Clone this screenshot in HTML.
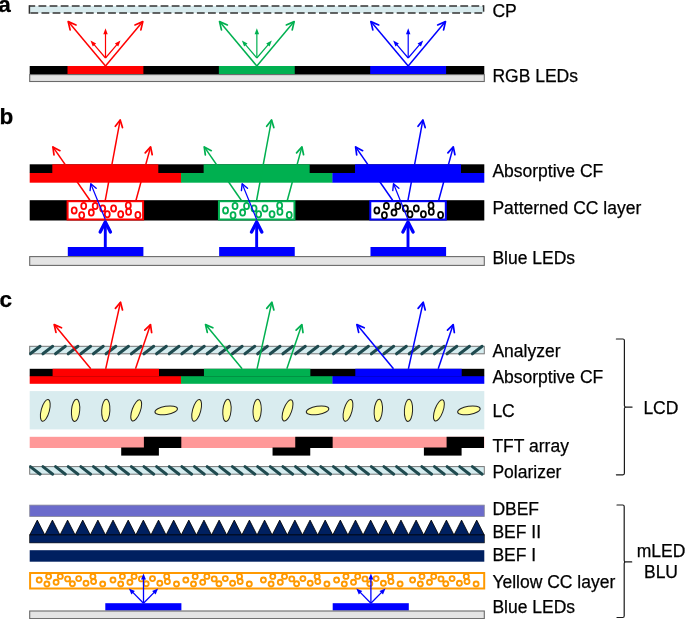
<!DOCTYPE html>
<html><head><meta charset="utf-8"><style>
html,body{margin:0;padding:0;background:#fff;width:685px;height:619px;overflow:hidden}
svg{display:block;will-change:transform}
text{font-family:"Liberation Sans",sans-serif;fill:#000;stroke:#000;stroke-width:0.25px}
</style></head><body>
<svg width="685" height="619" viewBox="0 0 685 619">
<text x="-1.7" y="11.7" font-size="22.5" font-weight="bold">a</text>
<rect x="29.4" y="6" width="454.2" height="7" fill="#d8ebee"/>
<line x1="29.4" y1="6" x2="483.6" y2="6" stroke="#333" stroke-width="1.5" stroke-dasharray="7.8 3.3" stroke-dashoffset="2"/>
<line x1="29.4" y1="13" x2="483.6" y2="13" stroke="#333" stroke-width="1.5" stroke-dasharray="7.8 3.3" stroke-dashoffset="-1.0"/>
<line x1="29.4" y1="5.25" x2="29.4" y2="13.75" stroke="#333" stroke-width="1.5"/>
<line x1="483.6" y1="5.25" x2="483.6" y2="11.7" stroke="#333" stroke-width="1.5"/>
<rect x="29.7" y="66" width="454.6" height="8.5" fill="#000"/>
<rect x="67.50" y="66" width="75.9" height="8.5" fill="#ff0000"/>
<rect x="218.85" y="66" width="75.9" height="8.5" fill="#00b050"/>
<rect x="370.20" y="66" width="75.9" height="8.5" fill="#0000ff"/>
<rect x="29.7" y="74.6" width="454.6" height="6.9" fill="#e4e4e4" stroke="#6a6a6a" stroke-width="1.1"/>
<line x1="105.50" y1="66.00" x2="68.20" y2="21.60" stroke="#ff0000" stroke-width="1.5"/>
<polyline points="70.12,29.88 68.20,21.60 76.03,24.92" fill="none" stroke="#ff0000" stroke-width="1.72" stroke-linecap="round" stroke-linejoin="round"/>
<line x1="105.50" y1="66.00" x2="142.80" y2="21.60" stroke="#ff0000" stroke-width="1.5"/>
<polyline points="134.97,24.92 142.80,21.60 140.88,29.88" fill="none" stroke="#ff0000" stroke-width="1.72" stroke-linecap="round" stroke-linejoin="round"/>
<line x1="105.50" y1="58.00" x2="105.50" y2="32.75" stroke="#ff0000" stroke-width="1.2"/>
<polygon points="105.50,28.20 103.28,34.31 107.72,34.31" fill="#ff0000"/>
<line x1="105.50" y1="58.00" x2="93.45" y2="43.86" stroke="#ff0000" stroke-width="1.2"/>
<polygon points="90.50,40.40 92.77,46.49 96.15,43.61" fill="#ff0000"/>
<line x1="105.50" y1="58.00" x2="117.55" y2="43.86" stroke="#ff0000" stroke-width="1.2"/>
<polygon points="120.50,40.40 114.85,43.61 118.23,46.49" fill="#ff0000"/>
<line x1="256.85" y1="66.00" x2="219.55" y2="21.60" stroke="#00b050" stroke-width="1.5"/>
<polyline points="221.47,29.88 219.55,21.60 227.38,24.92" fill="none" stroke="#00b050" stroke-width="1.72" stroke-linecap="round" stroke-linejoin="round"/>
<line x1="256.85" y1="66.00" x2="294.15" y2="21.60" stroke="#00b050" stroke-width="1.5"/>
<polyline points="286.32,24.92 294.15,21.60 292.23,29.88" fill="none" stroke="#00b050" stroke-width="1.72" stroke-linecap="round" stroke-linejoin="round"/>
<line x1="256.85" y1="58.00" x2="256.85" y2="32.75" stroke="#00b050" stroke-width="1.2"/>
<polygon points="256.85,28.20 254.63,34.31 259.07,34.31" fill="#00b050"/>
<line x1="256.85" y1="58.00" x2="244.80" y2="43.86" stroke="#00b050" stroke-width="1.2"/>
<polygon points="241.85,40.40 244.12,46.49 247.50,43.61" fill="#00b050"/>
<line x1="256.85" y1="58.00" x2="268.90" y2="43.86" stroke="#00b050" stroke-width="1.2"/>
<polygon points="271.85,40.40 266.20,43.61 269.58,46.49" fill="#00b050"/>
<line x1="408.20" y1="66.00" x2="370.90" y2="21.60" stroke="#0000ff" stroke-width="1.5"/>
<polyline points="372.82,29.88 370.90,21.60 378.73,24.92" fill="none" stroke="#0000ff" stroke-width="1.72" stroke-linecap="round" stroke-linejoin="round"/>
<line x1="408.20" y1="66.00" x2="445.50" y2="21.60" stroke="#0000ff" stroke-width="1.5"/>
<polyline points="437.67,24.92 445.50,21.60 443.58,29.88" fill="none" stroke="#0000ff" stroke-width="1.72" stroke-linecap="round" stroke-linejoin="round"/>
<line x1="408.20" y1="58.00" x2="408.20" y2="32.75" stroke="#0000ff" stroke-width="1.2"/>
<polygon points="408.20,28.20 405.98,34.31 410.42,34.31" fill="#0000ff"/>
<line x1="408.20" y1="58.00" x2="396.15" y2="43.86" stroke="#0000ff" stroke-width="1.2"/>
<polygon points="393.20,40.40 395.47,46.49 398.85,43.61" fill="#0000ff"/>
<line x1="408.20" y1="58.00" x2="420.25" y2="43.86" stroke="#0000ff" stroke-width="1.2"/>
<polygon points="423.20,40.40 417.55,43.61 420.93,46.49" fill="#0000ff"/>
<text x="492.4" y="16.6" font-size="17.5" text-anchor="start">CP</text>
<text x="492.4" y="81.8" font-size="17.5" text-anchor="start">RGB LEDs</text>
<text x="-0.6" y="124" font-size="22.5" font-weight="bold">b</text>
<rect x="29.70" y="172.8" width="151.65" height="9.9" fill="#ff0000"/>
<rect x="181.05" y="172.8" width="151.65" height="9.9" fill="#00b050"/>
<rect x="332.40" y="172.8" width="151.90" height="9.9" fill="#0000ff"/>
<rect x="29.7" y="164.3" width="454.6" height="8.7" fill="#000"/>
<rect x="52.30" y="164.3" width="106" height="8.7" fill="#ff0000"/>
<rect x="203.65" y="164.3" width="106" height="8.7" fill="#00b050"/>
<rect x="355.00" y="164.3" width="106" height="8.7" fill="#0000ff"/>
<rect x="29.7" y="200.2" width="454.6" height="20.3" fill="#000"/>
<rect x="67.60" y="201.2" width="75.5" height="18.3" fill="#fff" stroke="#ff0000" stroke-width="2"/>
<ellipse cx="74.20" cy="210.4" rx="2.5" ry="3.1" fill="none" stroke="#ff0000" stroke-width="1.8"/>
<ellipse cx="83.70" cy="206" rx="2.5" ry="3.1" fill="none" stroke="#ff0000" stroke-width="1.8"/>
<ellipse cx="81.70" cy="215.2" rx="2.5" ry="3.1" fill="none" stroke="#ff0000" stroke-width="1.8"/>
<ellipse cx="91.30" cy="212.6" rx="2.5" ry="3.1" fill="none" stroke="#ff0000" stroke-width="1.8"/>
<ellipse cx="95.20" cy="206" rx="2.5" ry="3.1" fill="none" stroke="#ff0000" stroke-width="1.8"/>
<ellipse cx="102.70" cy="208.4" rx="2.5" ry="3.1" fill="none" stroke="#ff0000" stroke-width="1.8"/>
<ellipse cx="107.30" cy="214.3" rx="2.5" ry="3.1" fill="none" stroke="#ff0000" stroke-width="1.8"/>
<ellipse cx="113.60" cy="208.4" rx="2.5" ry="3.1" fill="none" stroke="#ff0000" stroke-width="1.8"/>
<ellipse cx="120.70" cy="214.3" rx="2.5" ry="3.1" fill="none" stroke="#ff0000" stroke-width="1.8"/>
<ellipse cx="128.30" cy="205.5" rx="2.5" ry="3.1" fill="none" stroke="#ff0000" stroke-width="1.8"/>
<ellipse cx="128.60" cy="211.7" rx="2.5" ry="3.1" fill="none" stroke="#ff0000" stroke-width="1.8"/>
<ellipse cx="137.90" cy="215" rx="2.5" ry="3.1" fill="none" stroke="#ff0000" stroke-width="1.8"/>
<rect x="218.95" y="201.2" width="75.5" height="18.3" fill="#fff" stroke="#00b050" stroke-width="2"/>
<ellipse cx="225.55" cy="210.4" rx="2.5" ry="3.1" fill="none" stroke="#00b050" stroke-width="1.8"/>
<ellipse cx="235.05" cy="206" rx="2.5" ry="3.1" fill="none" stroke="#00b050" stroke-width="1.8"/>
<ellipse cx="233.05" cy="215.2" rx="2.5" ry="3.1" fill="none" stroke="#00b050" stroke-width="1.8"/>
<ellipse cx="242.65" cy="212.6" rx="2.5" ry="3.1" fill="none" stroke="#00b050" stroke-width="1.8"/>
<ellipse cx="246.55" cy="206" rx="2.5" ry="3.1" fill="none" stroke="#00b050" stroke-width="1.8"/>
<ellipse cx="254.05" cy="208.4" rx="2.5" ry="3.1" fill="none" stroke="#00b050" stroke-width="1.8"/>
<ellipse cx="258.65" cy="214.3" rx="2.5" ry="3.1" fill="none" stroke="#00b050" stroke-width="1.8"/>
<ellipse cx="264.95" cy="208.4" rx="2.5" ry="3.1" fill="none" stroke="#00b050" stroke-width="1.8"/>
<ellipse cx="272.05" cy="214.3" rx="2.5" ry="3.1" fill="none" stroke="#00b050" stroke-width="1.8"/>
<ellipse cx="279.65" cy="205.5" rx="2.5" ry="3.1" fill="none" stroke="#00b050" stroke-width="1.8"/>
<ellipse cx="279.95" cy="211.7" rx="2.5" ry="3.1" fill="none" stroke="#00b050" stroke-width="1.8"/>
<ellipse cx="289.25" cy="215" rx="2.5" ry="3.1" fill="none" stroke="#00b050" stroke-width="1.8"/>
<rect x="370.30" y="201.2" width="75.5" height="18.3" fill="#fff" stroke="#0000ff" stroke-width="2"/>
<ellipse cx="376.90" cy="210.4" rx="2.5" ry="3.1" fill="none" stroke="#000" stroke-width="1.8"/>
<ellipse cx="386.40" cy="206" rx="2.5" ry="3.1" fill="none" stroke="#000" stroke-width="1.8"/>
<ellipse cx="384.40" cy="215.2" rx="2.5" ry="3.1" fill="none" stroke="#000" stroke-width="1.8"/>
<ellipse cx="394.00" cy="212.6" rx="2.5" ry="3.1" fill="none" stroke="#000" stroke-width="1.8"/>
<ellipse cx="397.90" cy="206" rx="2.5" ry="3.1" fill="none" stroke="#000" stroke-width="1.8"/>
<ellipse cx="405.40" cy="208.4" rx="2.5" ry="3.1" fill="none" stroke="#000" stroke-width="1.8"/>
<ellipse cx="410.00" cy="214.3" rx="2.5" ry="3.1" fill="none" stroke="#000" stroke-width="1.8"/>
<ellipse cx="416.30" cy="208.4" rx="2.5" ry="3.1" fill="none" stroke="#000" stroke-width="1.8"/>
<ellipse cx="423.40" cy="214.3" rx="2.5" ry="3.1" fill="none" stroke="#000" stroke-width="1.8"/>
<ellipse cx="431.00" cy="205.5" rx="2.5" ry="3.1" fill="none" stroke="#000" stroke-width="1.8"/>
<ellipse cx="431.30" cy="211.7" rx="2.5" ry="3.1" fill="none" stroke="#000" stroke-width="1.8"/>
<ellipse cx="440.60" cy="215" rx="2.5" ry="3.1" fill="none" stroke="#000" stroke-width="1.8"/>
<rect x="67.80" y="247" width="75.6" height="9" fill="#0000ff"/>
<rect x="219.15" y="247" width="75.6" height="9" fill="#0000ff"/>
<rect x="370.50" y="247" width="75.6" height="9" fill="#0000ff"/>
<rect x="29.7" y="256.6" width="454.6" height="8.8" fill="#e4e4e4" stroke="#6a6a6a" stroke-width="1.1"/>
<line x1="105.30" y1="247.00" x2="105.30" y2="222.00" stroke="#0000ff" stroke-width="2.9"/>
<polyline points="100.17,232.07 105.30,222.00 110.43,232.07" fill="none" stroke="#0000ff" stroke-width="3.33" stroke-linecap="round" stroke-linejoin="round"/>
<line x1="105.30" y1="219.50" x2="90.80" y2="183.70" stroke="#0000ff" stroke-width="1.2"/>
<polyline points="90.07,190.66 90.80,183.70 96.17,188.19" fill="none" stroke="#0000ff" stroke-width="1.38" stroke-linecap="round" stroke-linejoin="round"/>
<line x1="89.90" y1="200.20" x2="52.90" y2="146.90" stroke="#ff0000" stroke-width="1.5"/>
<polyline points="53.98,154.83 52.90,146.90 59.95,150.68" fill="none" stroke="#ff0000" stroke-width="1.72" stroke-linecap="round" stroke-linejoin="round"/>
<line x1="105.30" y1="200.20" x2="120.20" y2="119.90" stroke="#ff0000" stroke-width="1.5"/>
<polyline points="115.33,126.25 120.20,119.90 122.47,127.57" fill="none" stroke="#ff0000" stroke-width="1.72" stroke-linecap="round" stroke-linejoin="round"/>
<line x1="136.00" y1="200.20" x2="150.60" y2="146.90" stroke="#ff0000" stroke-width="1.5"/>
<polyline points="145.21,152.82 150.60,146.90 152.22,154.73" fill="none" stroke="#ff0000" stroke-width="1.72" stroke-linecap="round" stroke-linejoin="round"/>
<line x1="256.65" y1="247.00" x2="256.65" y2="222.00" stroke="#0000ff" stroke-width="2.9"/>
<polyline points="251.52,232.07 256.65,222.00 261.78,232.07" fill="none" stroke="#0000ff" stroke-width="3.33" stroke-linecap="round" stroke-linejoin="round"/>
<line x1="256.65" y1="219.50" x2="242.15" y2="183.70" stroke="#0000ff" stroke-width="1.2"/>
<polyline points="241.42,190.66 242.15,183.70 247.52,188.19" fill="none" stroke="#0000ff" stroke-width="1.38" stroke-linecap="round" stroke-linejoin="round"/>
<line x1="241.25" y1="200.20" x2="204.25" y2="146.90" stroke="#00b050" stroke-width="1.5"/>
<polyline points="205.33,154.83 204.25,146.90 211.30,150.68" fill="none" stroke="#00b050" stroke-width="1.72" stroke-linecap="round" stroke-linejoin="round"/>
<line x1="256.65" y1="200.20" x2="271.55" y2="119.90" stroke="#00b050" stroke-width="1.5"/>
<polyline points="266.68,126.25 271.55,119.90 273.82,127.57" fill="none" stroke="#00b050" stroke-width="1.72" stroke-linecap="round" stroke-linejoin="round"/>
<line x1="287.35" y1="200.20" x2="301.95" y2="146.90" stroke="#00b050" stroke-width="1.5"/>
<polyline points="296.56,152.82 301.95,146.90 303.57,154.73" fill="none" stroke="#00b050" stroke-width="1.72" stroke-linecap="round" stroke-linejoin="round"/>
<line x1="408.00" y1="247.00" x2="408.00" y2="222.00" stroke="#0000ff" stroke-width="2.9"/>
<polyline points="402.87,232.07 408.00,222.00 413.13,232.07" fill="none" stroke="#0000ff" stroke-width="3.33" stroke-linecap="round" stroke-linejoin="round"/>
<line x1="408.00" y1="219.50" x2="393.50" y2="183.70" stroke="#0000ff" stroke-width="1.2"/>
<polyline points="392.77,190.66 393.50,183.70 398.87,188.19" fill="none" stroke="#0000ff" stroke-width="1.38" stroke-linecap="round" stroke-linejoin="round"/>
<line x1="392.60" y1="200.20" x2="355.60" y2="146.90" stroke="#0000ff" stroke-width="1.5"/>
<polyline points="356.68,154.83 355.60,146.90 362.65,150.68" fill="none" stroke="#0000ff" stroke-width="1.72" stroke-linecap="round" stroke-linejoin="round"/>
<line x1="408.00" y1="200.20" x2="422.90" y2="119.90" stroke="#0000ff" stroke-width="1.5"/>
<polyline points="418.03,126.25 422.90,119.90 425.17,127.57" fill="none" stroke="#0000ff" stroke-width="1.72" stroke-linecap="round" stroke-linejoin="round"/>
<line x1="438.70" y1="200.20" x2="453.30" y2="146.90" stroke="#0000ff" stroke-width="1.5"/>
<polyline points="447.91,152.82 453.30,146.90 454.92,154.73" fill="none" stroke="#0000ff" stroke-width="1.72" stroke-linecap="round" stroke-linejoin="round"/>
<text x="492.4" y="177.1" font-size="17.5" text-anchor="start">Absorptive CF</text>
<text x="492.4" y="214" font-size="17.5" text-anchor="start">Patterned CC layer</text>
<text x="492.4" y="263.8" font-size="17.5" text-anchor="start">Blue LEDs</text>
<text x="-0.4" y="307.4" font-size="22.5" font-weight="bold">c</text>
<rect x="29.7" y="346.3" width="454.6" height="7.5" fill="#d5ecef" stroke="#777" stroke-width="1"/>
<clipPath id="clip346"><rect x="29.2" y="343.3" width="455.6" height="13.5"/></clipPath><g clip-path="url(#clip346)">
<line x1="30.30" y1="353.8" x2="40.10" y2="346.3" stroke="#1f4a4f" stroke-width="3" stroke-linecap="round"/>
<line x1="42.93" y1="353.8" x2="52.73" y2="346.3" stroke="#1f4a4f" stroke-width="3" stroke-linecap="round"/>
<line x1="55.56" y1="353.8" x2="65.36" y2="346.3" stroke="#1f4a4f" stroke-width="3" stroke-linecap="round"/>
<line x1="68.19" y1="353.8" x2="77.99" y2="346.3" stroke="#1f4a4f" stroke-width="3" stroke-linecap="round"/>
<line x1="80.82" y1="353.8" x2="90.62" y2="346.3" stroke="#1f4a4f" stroke-width="3" stroke-linecap="round"/>
<line x1="93.45" y1="353.8" x2="103.25" y2="346.3" stroke="#1f4a4f" stroke-width="3" stroke-linecap="round"/>
<line x1="106.08" y1="353.8" x2="115.88" y2="346.3" stroke="#1f4a4f" stroke-width="3" stroke-linecap="round"/>
<line x1="118.71" y1="353.8" x2="128.51" y2="346.3" stroke="#1f4a4f" stroke-width="3" stroke-linecap="round"/>
<line x1="131.34" y1="353.8" x2="141.14" y2="346.3" stroke="#1f4a4f" stroke-width="3" stroke-linecap="round"/>
<line x1="143.97" y1="353.8" x2="153.77" y2="346.3" stroke="#1f4a4f" stroke-width="3" stroke-linecap="round"/>
<line x1="156.60" y1="353.8" x2="166.40" y2="346.3" stroke="#1f4a4f" stroke-width="3" stroke-linecap="round"/>
<line x1="169.23" y1="353.8" x2="179.03" y2="346.3" stroke="#1f4a4f" stroke-width="3" stroke-linecap="round"/>
<line x1="181.86" y1="353.8" x2="191.66" y2="346.3" stroke="#1f4a4f" stroke-width="3" stroke-linecap="round"/>
<line x1="194.49" y1="353.8" x2="204.29" y2="346.3" stroke="#1f4a4f" stroke-width="3" stroke-linecap="round"/>
<line x1="207.12" y1="353.8" x2="216.92" y2="346.3" stroke="#1f4a4f" stroke-width="3" stroke-linecap="round"/>
<line x1="219.75" y1="353.8" x2="229.55" y2="346.3" stroke="#1f4a4f" stroke-width="3" stroke-linecap="round"/>
<line x1="232.38" y1="353.8" x2="242.18" y2="346.3" stroke="#1f4a4f" stroke-width="3" stroke-linecap="round"/>
<line x1="245.01" y1="353.8" x2="254.81" y2="346.3" stroke="#1f4a4f" stroke-width="3" stroke-linecap="round"/>
<line x1="257.64" y1="353.8" x2="267.44" y2="346.3" stroke="#1f4a4f" stroke-width="3" stroke-linecap="round"/>
<line x1="270.27" y1="353.8" x2="280.07" y2="346.3" stroke="#1f4a4f" stroke-width="3" stroke-linecap="round"/>
<line x1="282.90" y1="353.8" x2="292.70" y2="346.3" stroke="#1f4a4f" stroke-width="3" stroke-linecap="round"/>
<line x1="295.53" y1="353.8" x2="305.33" y2="346.3" stroke="#1f4a4f" stroke-width="3" stroke-linecap="round"/>
<line x1="308.16" y1="353.8" x2="317.96" y2="346.3" stroke="#1f4a4f" stroke-width="3" stroke-linecap="round"/>
<line x1="320.79" y1="353.8" x2="330.59" y2="346.3" stroke="#1f4a4f" stroke-width="3" stroke-linecap="round"/>
<line x1="333.42" y1="353.8" x2="343.22" y2="346.3" stroke="#1f4a4f" stroke-width="3" stroke-linecap="round"/>
<line x1="346.05" y1="353.8" x2="355.85" y2="346.3" stroke="#1f4a4f" stroke-width="3" stroke-linecap="round"/>
<line x1="358.68" y1="353.8" x2="368.48" y2="346.3" stroke="#1f4a4f" stroke-width="3" stroke-linecap="round"/>
<line x1="371.31" y1="353.8" x2="381.11" y2="346.3" stroke="#1f4a4f" stroke-width="3" stroke-linecap="round"/>
<line x1="383.94" y1="353.8" x2="393.74" y2="346.3" stroke="#1f4a4f" stroke-width="3" stroke-linecap="round"/>
<line x1="396.57" y1="353.8" x2="406.37" y2="346.3" stroke="#1f4a4f" stroke-width="3" stroke-linecap="round"/>
<line x1="409.20" y1="353.8" x2="419.00" y2="346.3" stroke="#1f4a4f" stroke-width="3" stroke-linecap="round"/>
<line x1="421.83" y1="353.8" x2="431.63" y2="346.3" stroke="#1f4a4f" stroke-width="3" stroke-linecap="round"/>
<line x1="434.46" y1="353.8" x2="444.26" y2="346.3" stroke="#1f4a4f" stroke-width="3" stroke-linecap="round"/>
<line x1="447.09" y1="353.8" x2="456.89" y2="346.3" stroke="#1f4a4f" stroke-width="3" stroke-linecap="round"/>
<line x1="459.72" y1="353.8" x2="469.52" y2="346.3" stroke="#1f4a4f" stroke-width="3" stroke-linecap="round"/>
<line x1="472.35" y1="353.8" x2="482.15" y2="346.3" stroke="#1f4a4f" stroke-width="3" stroke-linecap="round"/>
</g>
<rect x="29.70" y="375.8" width="151.65" height="8" fill="#ff0000"/>
<rect x="181.05" y="375.8" width="151.65" height="8" fill="#00b050"/>
<rect x="332.40" y="375.8" width="151.90" height="8" fill="#0000ff"/>
<rect x="29.7" y="368.8" width="454.6" height="7.4" fill="#000"/>
<rect x="52.60" y="368.8" width="106.4" height="7.4" fill="#ff0000"/>
<rect x="203.95" y="368.8" width="106.4" height="7.4" fill="#00b050"/>
<rect x="355.30" y="368.8" width="106.4" height="7.4" fill="#0000ff"/>
<line x1="90.80" y1="368.80" x2="54.20" y2="324.60" stroke="#ff0000" stroke-width="1.5"/>
<polyline points="55.95,332.41 54.20,324.60 61.54,327.77" fill="none" stroke="#ff0000" stroke-width="1.72" stroke-linecap="round" stroke-linejoin="round"/>
<line x1="105.70" y1="368.80" x2="120.50" y2="302.20" stroke="#ff0000" stroke-width="1.5"/>
<polyline points="115.41,308.37 120.50,302.20 122.50,309.95" fill="none" stroke="#ff0000" stroke-width="1.72" stroke-linecap="round" stroke-linejoin="round"/>
<line x1="135.50" y1="368.80" x2="150.50" y2="324.60" stroke="#ff0000" stroke-width="1.5"/>
<polyline points="144.77,330.18 150.50,324.60 151.65,332.52" fill="none" stroke="#ff0000" stroke-width="1.72" stroke-linecap="round" stroke-linejoin="round"/>
<line x1="242.15" y1="368.80" x2="205.55" y2="324.60" stroke="#00b050" stroke-width="1.5"/>
<polyline points="207.30,332.41 205.55,324.60 212.89,327.77" fill="none" stroke="#00b050" stroke-width="1.72" stroke-linecap="round" stroke-linejoin="round"/>
<line x1="257.05" y1="368.80" x2="271.85" y2="302.20" stroke="#00b050" stroke-width="1.5"/>
<polyline points="266.76,308.37 271.85,302.20 273.85,309.95" fill="none" stroke="#00b050" stroke-width="1.72" stroke-linecap="round" stroke-linejoin="round"/>
<line x1="286.85" y1="368.80" x2="301.85" y2="324.60" stroke="#00b050" stroke-width="1.5"/>
<polyline points="296.12,330.18 301.85,324.60 303.00,332.52" fill="none" stroke="#00b050" stroke-width="1.72" stroke-linecap="round" stroke-linejoin="round"/>
<line x1="393.50" y1="368.80" x2="356.90" y2="324.60" stroke="#0000ff" stroke-width="1.5"/>
<polyline points="358.65,332.41 356.90,324.60 364.24,327.77" fill="none" stroke="#0000ff" stroke-width="1.72" stroke-linecap="round" stroke-linejoin="round"/>
<line x1="408.40" y1="368.80" x2="423.20" y2="302.20" stroke="#0000ff" stroke-width="1.5"/>
<polyline points="418.11,308.37 423.20,302.20 425.20,309.95" fill="none" stroke="#0000ff" stroke-width="1.72" stroke-linecap="round" stroke-linejoin="round"/>
<line x1="438.20" y1="368.80" x2="453.20" y2="324.60" stroke="#0000ff" stroke-width="1.5"/>
<polyline points="447.47,330.18 453.20,324.60 454.35,332.52" fill="none" stroke="#0000ff" stroke-width="1.72" stroke-linecap="round" stroke-linejoin="round"/>
<rect x="29.7" y="391.1" width="454.6" height="38.3" fill="#d9ecef"/>
<ellipse cx="45.30" cy="410.4" rx="4.1" ry="11.2" transform="rotate(15 45.30 410.4)" fill="#ffff99" stroke="#222" stroke-width="1"/>
<ellipse cx="75.60" cy="410.4" rx="4.1" ry="11.2" transform="rotate(5 75.60 410.4)" fill="#ffff99" stroke="#222" stroke-width="1"/>
<ellipse cx="105.80" cy="410.4" rx="4.1" ry="11.2" transform="rotate(3 105.80 410.4)" fill="#ffff99" stroke="#222" stroke-width="1"/>
<ellipse cx="136.20" cy="410.4" rx="4.1" ry="11.2" transform="rotate(20 136.20 410.4)" fill="#ffff99" stroke="#222" stroke-width="1"/>
<ellipse cx="166.20" cy="410.4" rx="11.4" ry="4.1" transform="rotate(-9 166.20 410.4)" fill="#ffff99" stroke="#222" stroke-width="1"/>
<ellipse cx="196.65" cy="410.4" rx="4.1" ry="11.2" transform="rotate(15 196.65 410.4)" fill="#ffff99" stroke="#222" stroke-width="1"/>
<ellipse cx="226.95" cy="410.4" rx="4.1" ry="11.2" transform="rotate(5 226.95 410.4)" fill="#ffff99" stroke="#222" stroke-width="1"/>
<ellipse cx="257.15" cy="410.4" rx="4.1" ry="11.2" transform="rotate(3 257.15 410.4)" fill="#ffff99" stroke="#222" stroke-width="1"/>
<ellipse cx="287.55" cy="410.4" rx="4.1" ry="11.2" transform="rotate(20 287.55 410.4)" fill="#ffff99" stroke="#222" stroke-width="1"/>
<ellipse cx="317.55" cy="410.4" rx="11.4" ry="4.1" transform="rotate(-9 317.55 410.4)" fill="#ffff99" stroke="#222" stroke-width="1"/>
<ellipse cx="348.00" cy="410.4" rx="4.1" ry="11.2" transform="rotate(15 348.00 410.4)" fill="#ffff99" stroke="#222" stroke-width="1"/>
<ellipse cx="378.30" cy="410.4" rx="4.1" ry="11.2" transform="rotate(5 378.30 410.4)" fill="#ffff99" stroke="#222" stroke-width="1"/>
<ellipse cx="408.50" cy="410.4" rx="4.1" ry="11.2" transform="rotate(3 408.50 410.4)" fill="#ffff99" stroke="#222" stroke-width="1"/>
<ellipse cx="438.90" cy="410.4" rx="4.1" ry="11.2" transform="rotate(20 438.90 410.4)" fill="#ffff99" stroke="#222" stroke-width="1"/>
<ellipse cx="468.90" cy="410.4" rx="11.4" ry="4.1" transform="rotate(-9 468.90 410.4)" fill="#ffff99" stroke="#222" stroke-width="1"/>
<rect x="29.7" y="436.8" width="454.6" height="11.2" fill="#ff9999"/>
<rect x="143.90" y="436.8" width="37.4" height="11.2" fill="#000"/>
<rect x="121.20" y="447.5" width="37.7" height="8.1" fill="#000"/>
<rect x="295.25" y="436.8" width="37.4" height="11.2" fill="#000"/>
<rect x="272.55" y="447.5" width="37.7" height="8.1" fill="#000"/>
<rect x="446.60" y="436.8" width="37.4" height="11.2" fill="#000"/>
<rect x="423.90" y="447.5" width="37.7" height="8.1" fill="#000"/>
<rect x="29.7" y="466.6" width="454.6" height="7.6" fill="#d5ecef" stroke="#777" stroke-width="1"/>
<clipPath id="clip466"><rect x="29.2" y="463.6" width="455.6" height="13.6"/></clipPath><g clip-path="url(#clip466)">
<line x1="30.30" y1="466.6" x2="40.10" y2="474.20000000000005" stroke="#1f4a4f" stroke-width="3" stroke-linecap="round"/>
<line x1="42.93" y1="466.6" x2="52.73" y2="474.20000000000005" stroke="#1f4a4f" stroke-width="3" stroke-linecap="round"/>
<line x1="55.56" y1="466.6" x2="65.36" y2="474.20000000000005" stroke="#1f4a4f" stroke-width="3" stroke-linecap="round"/>
<line x1="68.19" y1="466.6" x2="77.99" y2="474.20000000000005" stroke="#1f4a4f" stroke-width="3" stroke-linecap="round"/>
<line x1="80.82" y1="466.6" x2="90.62" y2="474.20000000000005" stroke="#1f4a4f" stroke-width="3" stroke-linecap="round"/>
<line x1="93.45" y1="466.6" x2="103.25" y2="474.20000000000005" stroke="#1f4a4f" stroke-width="3" stroke-linecap="round"/>
<line x1="106.08" y1="466.6" x2="115.88" y2="474.20000000000005" stroke="#1f4a4f" stroke-width="3" stroke-linecap="round"/>
<line x1="118.71" y1="466.6" x2="128.51" y2="474.20000000000005" stroke="#1f4a4f" stroke-width="3" stroke-linecap="round"/>
<line x1="131.34" y1="466.6" x2="141.14" y2="474.20000000000005" stroke="#1f4a4f" stroke-width="3" stroke-linecap="round"/>
<line x1="143.97" y1="466.6" x2="153.77" y2="474.20000000000005" stroke="#1f4a4f" stroke-width="3" stroke-linecap="round"/>
<line x1="156.60" y1="466.6" x2="166.40" y2="474.20000000000005" stroke="#1f4a4f" stroke-width="3" stroke-linecap="round"/>
<line x1="169.23" y1="466.6" x2="179.03" y2="474.20000000000005" stroke="#1f4a4f" stroke-width="3" stroke-linecap="round"/>
<line x1="181.86" y1="466.6" x2="191.66" y2="474.20000000000005" stroke="#1f4a4f" stroke-width="3" stroke-linecap="round"/>
<line x1="194.49" y1="466.6" x2="204.29" y2="474.20000000000005" stroke="#1f4a4f" stroke-width="3" stroke-linecap="round"/>
<line x1="207.12" y1="466.6" x2="216.92" y2="474.20000000000005" stroke="#1f4a4f" stroke-width="3" stroke-linecap="round"/>
<line x1="219.75" y1="466.6" x2="229.55" y2="474.20000000000005" stroke="#1f4a4f" stroke-width="3" stroke-linecap="round"/>
<line x1="232.38" y1="466.6" x2="242.18" y2="474.20000000000005" stroke="#1f4a4f" stroke-width="3" stroke-linecap="round"/>
<line x1="245.01" y1="466.6" x2="254.81" y2="474.20000000000005" stroke="#1f4a4f" stroke-width="3" stroke-linecap="round"/>
<line x1="257.64" y1="466.6" x2="267.44" y2="474.20000000000005" stroke="#1f4a4f" stroke-width="3" stroke-linecap="round"/>
<line x1="270.27" y1="466.6" x2="280.07" y2="474.20000000000005" stroke="#1f4a4f" stroke-width="3" stroke-linecap="round"/>
<line x1="282.90" y1="466.6" x2="292.70" y2="474.20000000000005" stroke="#1f4a4f" stroke-width="3" stroke-linecap="round"/>
<line x1="295.53" y1="466.6" x2="305.33" y2="474.20000000000005" stroke="#1f4a4f" stroke-width="3" stroke-linecap="round"/>
<line x1="308.16" y1="466.6" x2="317.96" y2="474.20000000000005" stroke="#1f4a4f" stroke-width="3" stroke-linecap="round"/>
<line x1="320.79" y1="466.6" x2="330.59" y2="474.20000000000005" stroke="#1f4a4f" stroke-width="3" stroke-linecap="round"/>
<line x1="333.42" y1="466.6" x2="343.22" y2="474.20000000000005" stroke="#1f4a4f" stroke-width="3" stroke-linecap="round"/>
<line x1="346.05" y1="466.6" x2="355.85" y2="474.20000000000005" stroke="#1f4a4f" stroke-width="3" stroke-linecap="round"/>
<line x1="358.68" y1="466.6" x2="368.48" y2="474.20000000000005" stroke="#1f4a4f" stroke-width="3" stroke-linecap="round"/>
<line x1="371.31" y1="466.6" x2="381.11" y2="474.20000000000005" stroke="#1f4a4f" stroke-width="3" stroke-linecap="round"/>
<line x1="383.94" y1="466.6" x2="393.74" y2="474.20000000000005" stroke="#1f4a4f" stroke-width="3" stroke-linecap="round"/>
<line x1="396.57" y1="466.6" x2="406.37" y2="474.20000000000005" stroke="#1f4a4f" stroke-width="3" stroke-linecap="round"/>
<line x1="409.20" y1="466.6" x2="419.00" y2="474.20000000000005" stroke="#1f4a4f" stroke-width="3" stroke-linecap="round"/>
<line x1="421.83" y1="466.6" x2="431.63" y2="474.20000000000005" stroke="#1f4a4f" stroke-width="3" stroke-linecap="round"/>
<line x1="434.46" y1="466.6" x2="444.26" y2="474.20000000000005" stroke="#1f4a4f" stroke-width="3" stroke-linecap="round"/>
<line x1="447.09" y1="466.6" x2="456.89" y2="474.20000000000005" stroke="#1f4a4f" stroke-width="3" stroke-linecap="round"/>
<line x1="459.72" y1="466.6" x2="469.52" y2="474.20000000000005" stroke="#1f4a4f" stroke-width="3" stroke-linecap="round"/>
<line x1="472.35" y1="466.6" x2="482.15" y2="474.20000000000005" stroke="#1f4a4f" stroke-width="3" stroke-linecap="round"/>
</g>
<path d="M616.4,339 H622.9 Q624.4,339 624.4,340.5 V405.6 Q624.4,407.1 625.9,407.1 H632.1 M625.9,407.1 Q624.4,407.1 624.4,408.6 V473.3 Q624.4,474.8 622.9,474.8 H616.4" fill="none" stroke="#1a1a1a" stroke-width="1.2" stroke-linecap="round"/>
<text x="643.4" y="413.7" font-size="17.5" text-anchor="start">LCD</text>
<text x="492.4" y="356.9" font-size="17.5" text-anchor="start">Analyzer</text>
<text x="492.4" y="382.9" font-size="17.5" text-anchor="start">Absorptive CF</text>
<text x="492.4" y="417.2" font-size="17.5" text-anchor="start">LC</text>
<text x="492.4" y="451.5" font-size="17.5" text-anchor="start">TFT array</text>
<text x="492.4" y="477.7" font-size="17.5" text-anchor="start">Polarizer</text>
<rect x="29.7" y="505.1" width="454.6" height="11.5" fill="#6b6bcb" stroke="#8a8a9a" stroke-width="0.8"/>
<polygon points="29.7,535 37.28,520.1 44.85,535 52.43,520.1 60.01,535 67.58,520.1 75.16,535 82.74,520.1 90.31,535 97.89,520.1 105.47,535 113.04,520.1 120.62,535 128.20,520.1 135.77,535 143.35,520.1 150.93,535 158.50,520.1 166.08,535 173.66,520.1 181.23,535 188.81,520.1 196.39,535 203.96,520.1 211.54,535 219.12,520.1 226.69,535 234.27,520.1 241.85,535 249.42,520.1 257.00,535 264.58,520.1 272.15,535 279.73,520.1 287.31,535 294.88,520.1 302.46,535 310.04,520.1 317.61,535 325.19,520.1 332.77,535 340.34,520.1 347.92,535 355.50,520.1 363.07,535 370.65,520.1 378.23,535 385.80,520.1 393.38,535 400.96,520.1 408.53,535 416.11,520.1 423.69,535 431.26,520.1 438.84,535 446.42,520.1 453.99,535 461.57,520.1 469.15,535 476.72,520.1 484.30,535" fill="#002060" stroke="#000" stroke-width="0.8"/>
<rect x="29.7" y="535" width="454.6" height="7.9" fill="#002060" stroke="#000" stroke-width="0.6"/>
<rect x="29.7" y="550.2" width="454.6" height="11.5" fill="#002060"/>
<rect x="30.1" y="573" width="454.1" height="15.5" fill="#fff" stroke="#ff9900" stroke-width="2"/>
<circle cx="39.20" cy="580" r="2.5" fill="none" stroke="#ff9900" stroke-width="1.9"/>
<circle cx="48.60" cy="576.4" r="2.5" fill="none" stroke="#ff9900" stroke-width="1.9"/>
<circle cx="46.90" cy="584" r="2.5" fill="none" stroke="#ff9900" stroke-width="1.9"/>
<circle cx="56.10" cy="582.2" r="2.5" fill="none" stroke="#ff9900" stroke-width="1.9"/>
<circle cx="60.30" cy="576.4" r="2.5" fill="none" stroke="#ff9900" stroke-width="1.9"/>
<circle cx="67.60" cy="578.9" r="2.5" fill="none" stroke="#ff9900" stroke-width="1.9"/>
<circle cx="72.40" cy="583.7" r="2.5" fill="none" stroke="#ff9900" stroke-width="1.9"/>
<circle cx="78.70" cy="578.6" r="2.5" fill="none" stroke="#ff9900" stroke-width="1.9"/>
<circle cx="86.00" cy="583.2" r="2.5" fill="none" stroke="#ff9900" stroke-width="1.9"/>
<circle cx="92.90" cy="576.4" r="2.5" fill="none" stroke="#ff9900" stroke-width="1.9"/>
<circle cx="93.60" cy="581.5" r="2.5" fill="none" stroke="#ff9900" stroke-width="1.9"/>
<circle cx="102.70" cy="584" r="2.5" fill="none" stroke="#ff9900" stroke-width="1.9"/>
<circle cx="113.00" cy="580" r="2.5" fill="none" stroke="#ff9900" stroke-width="1.9"/>
<circle cx="122.40" cy="576.4" r="2.5" fill="none" stroke="#ff9900" stroke-width="1.9"/>
<circle cx="120.70" cy="584" r="2.5" fill="none" stroke="#ff9900" stroke-width="1.9"/>
<circle cx="129.90" cy="582.2" r="2.5" fill="none" stroke="#ff9900" stroke-width="1.9"/>
<circle cx="134.10" cy="576.4" r="2.5" fill="none" stroke="#ff9900" stroke-width="1.9"/>
<circle cx="141.40" cy="578.9" r="2.5" fill="none" stroke="#ff9900" stroke-width="1.9"/>
<circle cx="146.20" cy="583.7" r="2.5" fill="none" stroke="#ff9900" stroke-width="1.9"/>
<circle cx="152.50" cy="578.6" r="2.5" fill="none" stroke="#ff9900" stroke-width="1.9"/>
<circle cx="159.80" cy="583.2" r="2.5" fill="none" stroke="#ff9900" stroke-width="1.9"/>
<circle cx="166.70" cy="576.4" r="2.5" fill="none" stroke="#ff9900" stroke-width="1.9"/>
<circle cx="167.40" cy="581.5" r="2.5" fill="none" stroke="#ff9900" stroke-width="1.9"/>
<circle cx="176.50" cy="584" r="2.5" fill="none" stroke="#ff9900" stroke-width="1.9"/>
<circle cx="185.80" cy="580" r="2.5" fill="none" stroke="#ff9900" stroke-width="1.9"/>
<circle cx="195.20" cy="576.4" r="2.5" fill="none" stroke="#ff9900" stroke-width="1.9"/>
<circle cx="193.50" cy="584" r="2.5" fill="none" stroke="#ff9900" stroke-width="1.9"/>
<circle cx="202.70" cy="582.2" r="2.5" fill="none" stroke="#ff9900" stroke-width="1.9"/>
<circle cx="206.90" cy="576.4" r="2.5" fill="none" stroke="#ff9900" stroke-width="1.9"/>
<circle cx="214.20" cy="578.9" r="2.5" fill="none" stroke="#ff9900" stroke-width="1.9"/>
<circle cx="219.00" cy="583.7" r="2.5" fill="none" stroke="#ff9900" stroke-width="1.9"/>
<circle cx="225.30" cy="578.6" r="2.5" fill="none" stroke="#ff9900" stroke-width="1.9"/>
<circle cx="232.60" cy="583.2" r="2.5" fill="none" stroke="#ff9900" stroke-width="1.9"/>
<circle cx="239.50" cy="576.4" r="2.5" fill="none" stroke="#ff9900" stroke-width="1.9"/>
<circle cx="240.20" cy="581.5" r="2.5" fill="none" stroke="#ff9900" stroke-width="1.9"/>
<circle cx="249.30" cy="584" r="2.5" fill="none" stroke="#ff9900" stroke-width="1.9"/>
<circle cx="263.40" cy="580" r="2.5" fill="none" stroke="#ff9900" stroke-width="1.9"/>
<circle cx="272.80" cy="576.4" r="2.5" fill="none" stroke="#ff9900" stroke-width="1.9"/>
<circle cx="271.10" cy="584" r="2.5" fill="none" stroke="#ff9900" stroke-width="1.9"/>
<circle cx="280.30" cy="582.2" r="2.5" fill="none" stroke="#ff9900" stroke-width="1.9"/>
<circle cx="284.50" cy="576.4" r="2.5" fill="none" stroke="#ff9900" stroke-width="1.9"/>
<circle cx="291.80" cy="578.9" r="2.5" fill="none" stroke="#ff9900" stroke-width="1.9"/>
<circle cx="296.60" cy="583.7" r="2.5" fill="none" stroke="#ff9900" stroke-width="1.9"/>
<circle cx="302.90" cy="578.6" r="2.5" fill="none" stroke="#ff9900" stroke-width="1.9"/>
<circle cx="310.20" cy="583.2" r="2.5" fill="none" stroke="#ff9900" stroke-width="1.9"/>
<circle cx="317.10" cy="576.4" r="2.5" fill="none" stroke="#ff9900" stroke-width="1.9"/>
<circle cx="317.80" cy="581.5" r="2.5" fill="none" stroke="#ff9900" stroke-width="1.9"/>
<circle cx="326.90" cy="584" r="2.5" fill="none" stroke="#ff9900" stroke-width="1.9"/>
<circle cx="336.60" cy="580" r="2.5" fill="none" stroke="#ff9900" stroke-width="1.9"/>
<circle cx="346.00" cy="576.4" r="2.5" fill="none" stroke="#ff9900" stroke-width="1.9"/>
<circle cx="344.30" cy="584" r="2.5" fill="none" stroke="#ff9900" stroke-width="1.9"/>
<circle cx="353.50" cy="582.2" r="2.5" fill="none" stroke="#ff9900" stroke-width="1.9"/>
<circle cx="357.70" cy="576.4" r="2.5" fill="none" stroke="#ff9900" stroke-width="1.9"/>
<circle cx="365.00" cy="578.9" r="2.5" fill="none" stroke="#ff9900" stroke-width="1.9"/>
<circle cx="369.80" cy="583.7" r="2.5" fill="none" stroke="#ff9900" stroke-width="1.9"/>
<circle cx="376.10" cy="578.6" r="2.5" fill="none" stroke="#ff9900" stroke-width="1.9"/>
<circle cx="383.40" cy="583.2" r="2.5" fill="none" stroke="#ff9900" stroke-width="1.9"/>
<circle cx="390.30" cy="576.4" r="2.5" fill="none" stroke="#ff9900" stroke-width="1.9"/>
<circle cx="391.00" cy="581.5" r="2.5" fill="none" stroke="#ff9900" stroke-width="1.9"/>
<circle cx="400.10" cy="584" r="2.5" fill="none" stroke="#ff9900" stroke-width="1.9"/>
<circle cx="412.60" cy="580" r="2.5" fill="none" stroke="#ff9900" stroke-width="1.9"/>
<circle cx="422.00" cy="576.4" r="2.5" fill="none" stroke="#ff9900" stroke-width="1.9"/>
<circle cx="420.30" cy="584" r="2.5" fill="none" stroke="#ff9900" stroke-width="1.9"/>
<circle cx="429.50" cy="582.2" r="2.5" fill="none" stroke="#ff9900" stroke-width="1.9"/>
<circle cx="433.70" cy="576.4" r="2.5" fill="none" stroke="#ff9900" stroke-width="1.9"/>
<circle cx="441.00" cy="578.9" r="2.5" fill="none" stroke="#ff9900" stroke-width="1.9"/>
<circle cx="445.80" cy="583.7" r="2.5" fill="none" stroke="#ff9900" stroke-width="1.9"/>
<circle cx="452.10" cy="578.6" r="2.5" fill="none" stroke="#ff9900" stroke-width="1.9"/>
<circle cx="459.40" cy="583.2" r="2.5" fill="none" stroke="#ff9900" stroke-width="1.9"/>
<circle cx="466.30" cy="576.4" r="2.5" fill="none" stroke="#ff9900" stroke-width="1.9"/>
<circle cx="467.00" cy="581.5" r="2.5" fill="none" stroke="#ff9900" stroke-width="1.9"/>
<circle cx="476.10" cy="584" r="2.5" fill="none" stroke="#ff9900" stroke-width="1.9"/>
<rect x="105.30" y="603.2" width="76.1" height="7.3" fill="#0000ff"/>
<line x1="143.50" y1="603.20" x2="143.50" y2="578.05" stroke="#0000ff" stroke-width="1.3"/>
<polygon points="143.50,573.50 141.07,579.53 145.93,579.53" fill="#0000ff"/>
<line x1="143.50" y1="603.20" x2="132.10" y2="591.64" stroke="#0000ff" stroke-width="1.3"/>
<polygon points="128.90,588.40 131.40,594.40 134.87,590.98" fill="#0000ff"/>
<line x1="143.50" y1="603.20" x2="154.90" y2="591.64" stroke="#0000ff" stroke-width="1.3"/>
<polygon points="158.10,588.40 152.13,590.98 155.60,594.40" fill="#0000ff"/>
<rect x="332.70" y="603.2" width="76.1" height="7.3" fill="#0000ff"/>
<line x1="370.90" y1="603.20" x2="370.90" y2="578.05" stroke="#0000ff" stroke-width="1.3"/>
<polygon points="370.90,573.50 368.47,579.53 373.33,579.53" fill="#0000ff"/>
<line x1="370.90" y1="603.20" x2="359.50" y2="591.64" stroke="#0000ff" stroke-width="1.3"/>
<polygon points="356.30,588.40 358.80,594.40 362.27,590.98" fill="#0000ff"/>
<line x1="370.90" y1="603.20" x2="382.30" y2="591.64" stroke="#0000ff" stroke-width="1.3"/>
<polygon points="385.50,588.40 379.53,590.98 383.00,594.40" fill="#0000ff"/>
<rect x="29.7" y="611" width="454.6" height="7.6" fill="#e4e4e4" stroke="#6a6a6a" stroke-width="1.1"/>
<path d="M617,505 H622.7 Q624.2,505 624.2,506.5 V560.4 Q624.2,561.9 625.7,561.9 H631.7 M625.7,561.9 Q624.2,561.9 624.2,563.4 V616.0 Q624.2,617.5 622.7,617.5 H617" fill="none" stroke="#1a1a1a" stroke-width="1.2" stroke-linecap="round"/>
<text x="492.4" y="515.4" font-size="17.5" text-anchor="start">DBEF</text>
<text x="492.4" y="538" font-size="17.5" text-anchor="start">BEF II</text>
<text x="492.4" y="560.7" font-size="17.5" text-anchor="start">BEF I</text>
<text x="492.4" y="587.6" font-size="17.5" text-anchor="start">Yellow CC layer</text>
<text x="492.4" y="613.3" font-size="17.5" text-anchor="start">Blue LEDs</text>
<text x="661" y="557" font-size="17.5" text-anchor="middle">mLED</text>
<text x="661" y="577.9" font-size="17.5" text-anchor="middle">BLU</text>
</svg>
</body></html>
